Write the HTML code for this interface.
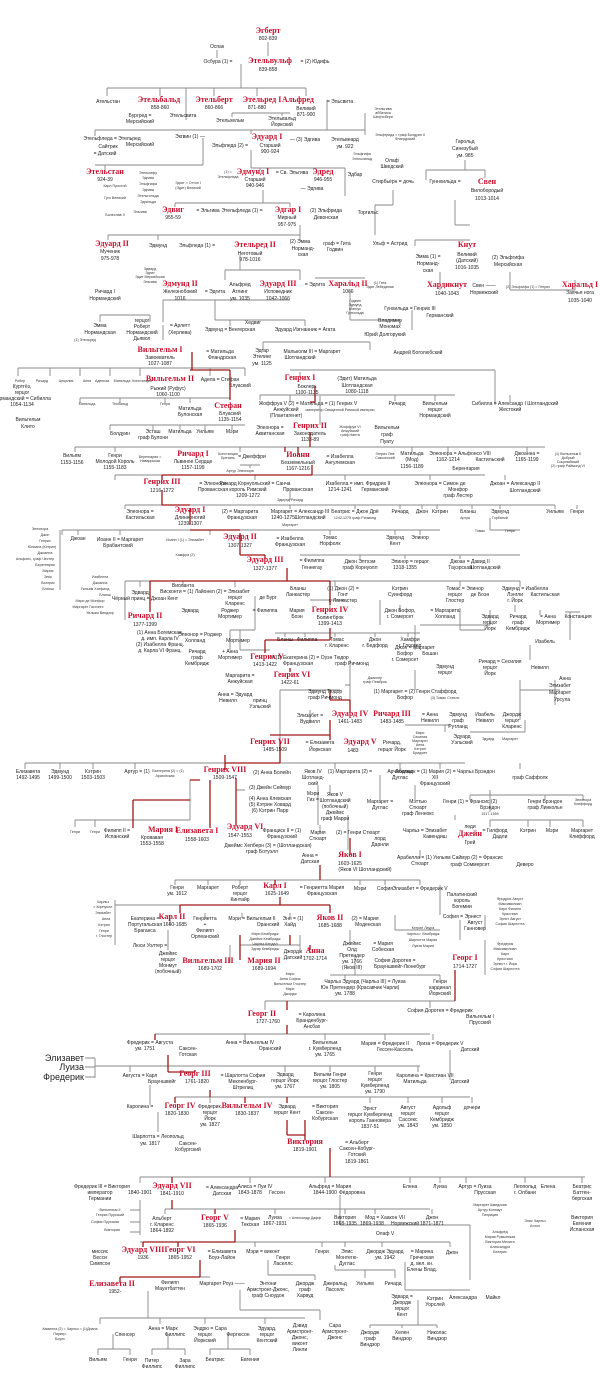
<!DOCTYPE html>
<html><head><meta charset="utf-8"><style>
html,body{margin:0;padding:0;background:#fff}
svg{display:block}
.t{font:5px "Liberation Sans",sans-serif;fill:#222;text-anchor:middle}
.s{font:3.6px "Liberation Sans",sans-serif;fill:#333;text-anchor:middle}
.r{font:bold 8px "Liberation Serif",serif;fill:#c8102e;text-anchor:middle}
.b{font:9px "Liberation Sans",sans-serif;fill:#222;text-anchor:end}
.g{fill:none;stroke:#888;stroke-width:0.9}
.d{fill:none;stroke:#a01818;stroke-width:1.3}
</style></head><body>
<svg width="600" height="1385" viewBox="0 0 600 1385" xmlns="http://www.w3.org/2000/svg">
<!-- gray lines -->
<path class="g" d="M268 42V56 M217 50V58 M241 64V88 M107 88H306 M107 88V96 M160 88V96 M186 88V120 M214 88V96 M257 88V96 M306 88V96
M232 113H290 M232 113V117 M282 113V116 M327 100V130 M95 130H365 M365 113V135 M95 130V136 M251 130V134
M203 138V165 M95 165H203 M105 165V170 M251 150V168 M251 168H345 M260 168V170 M345 168V196
M210 190H210 M175 203H290 M175 203V207 M290 203V207 M263 190V203
M426 170H485 M426 170V180 M485 170V178 M465 160V170 M393 190V205 M375 205H393 M375 205V235
M455 200V225 M455 225H470 M415 240H470 M415 240V246
M108 235H300 M108 235V240 M158 235V240 M300 225V240
M225 270H300 M225 270V280 M300 270V280 M240 255V270
M315 278H365 M350 280V286 M350 290V320 M350 320H400 M400 320V325 M412 310V330
M440 272V290 M510 272V290 M510 290H575 M575 290V280
M218 300H290 M218 300H163 M163 300V322 M163 325V340 M100 315H150 M100 315V322 M150 315V322
M215 300V320 M215 320H305 M230 320V326 M305 320V326 M263 342H370 M263 342V350 M370 342V350
M18 368H245 M18 368V376 M50 368V376 M80 368V376 M110 368V376 M140 368V376 M210 368V376 M245 368V376
M290 370H495 M495 370V405 M300 372V378
M80 398H230 M80 398V403 M120 398V403 M165 398V403 M190 398V403
M260 395H455 M260 395V400 M290 395V402 M395 395V401 M435 395V401 M510 395V402 M320 396V425
M110 425H245 M110 425V430 M153 425V430 M180 425V430 M205 425V430 M232 425V430
M75 447H545 M75 447V452 M115 447V452 M240 447V452 M412 447V452 M448 447V452 M527 447V452
M240 465H260 M250 465V468
M115 475H485 M115 475V480 M255 475V480 M345 475V480 M430 475V480 M505 475V480 M290 490V500
M125 505H555 M125 505V509 M290 505V509 M355 505V509 M400 505V509 M422 505V509 M437 505V509 M472 505V509 M500 505V509 M555 505V509 M577 505V509
M62 530H440 M62 530V535 M78 530V535 M120 530V535 M210 530V535 M330 530V535 M395 530V535 M420 530V535 M60 530V590
M490 518V530 M490 530H520
M300 555H520 M360 555V559 M405 555V559 M460 555V559
M125 581H520 M140 581V587 M183 581V587 M235 581V587 M335 581V587 M460 581V587 M520 581V587 M125 581V620
M150 605V612 M255 596V630 M230 630H255
M310 600H345 M330 605V612 M380 600V625 M400 605V612 M415 625V650 M420 625H490 M490 610V625
M460 608V630 M460 630H485 M515 605V612 M540 610V615 M565 612H580 M570 612V640 M530 645V660 M520 680V720
M240 630V650 M230 630V650 M240 650H270
M275 633H420 M285 633V637 M305 633V637 M335 633V637 M375 633V637 M408 633V637
M350 660V700 M345 685H350 M280 690V740 M280 690H340 M415 670V690 M555 680V705 M520 690H560
M310 710V720 M405 725H450 M445 725V732 M470 732H525 M525 720V732
M25 763H465 M25 763V769 M60 763V769 M93 763V769 M135 763V769 M335 763V769 M400 763V769 M440 763V769 M520 763V769
M190 780V820 M133 820H190 M75 820H160 M75 820V827 M95 820V827 M210 780V825 M236 778V825 M236 790H245
M318 785V825 M330 785V795 M380 775V800 M415 785V800 M470 795H583 M470 795V800 M545 795V800 M583 795V800 M490 790V812
M348 815V850 M320 825V832 M455 815V820 M490 820H583 M490 820V827 M528 820V827 M550 820V827 M583 820V827
M420 850V858 M175 880H420 M175 880V885 M208 880V885 M240 880V885 M360 880V885 M385 880V885 M420 880V885 M440 885V915
M115 905H258 M115 900V945 M170 915V925 M205 913V918 M242 913V918 M290 913V918 M168 930V950
M230 945V963 M240 945H300 M300 935V950 M350 930V945 M355 955V975 M330 975H440 M345 975V980 M440 975V980
M395 915V930 M395 930H440 M460 920V940 M485 915V930 M485 940V975
M265 1001H455 M265 1001V1010 M430 1001V1008
M155 1034H430 M245 1034V1040 M325 1034V1040 M385 1034V1040 M433 1034V1040 M450 1050V1080
M95 1058V1078 M85 1058H95 M85 1067H95 M85 1077H95 M95 1066H420 M130 1066V1072 M285 1066V1072 M330 1066V1072 M375 1066V1072 M418 1066V1072 M150 1085V1105
M175 1097H470 M210 1097V1103 M287 1097V1103 M370 1097V1103 M408 1097V1103 M442 1097V1103 M472 1097V1103 M158 1112V1132
M140 1177H585 M140 1177V1183 M250 1177V1183 M325 1177V1183 M410 1177V1183 M440 1177V1183 M466 1177V1183 M525 1177V1183 M582 1177V1183 M140 1200V1235 M130 1210H140 M130 1222H140 M130 1232H140
M165 1209H430 M165 1209V1214 M275 1209V1214 M345 1209V1214 M375 1209V1214 M432 1209V1214 M340 1195V1225 M340 1225H470 M470 1225V1280
M140 1242H450 M255 1242V1247 M322 1242V1247 M345 1242V1247 M382 1242V1247 M450 1242V1247 M268 1260V1275 M268 1275H315 M315 1275V1280 M335 1265V1270 M335 1270H395 M365 1270V1278 M395 1270V1278 M405 1262V1290 M405 1290H470
M200 1277H210 M148 1291V1318 M100 1318H305 M100 1318V1324 M160 1318V1324 M205 1318V1324 M265 1318V1324 M240 1290V1310 M240 1310H320 M320 1310V1320 M418 1300V1325 M370 1325H437 M370 1325V1328 M402 1325V1328 M437 1325V1328
M113 1334V1349 M98 1349H130 M98 1349V1355 M130 1349V1355 M168 1334V1349 M152 1349H185 M152 1349V1355 M185 1349V1355 M228 1334V1349 M210 1349H250 M210 1349V1355 M250 1349V1355"/>
<!-- red succession lines -->
<path class="d" d="M192 352V370 M190 370H230 M230 370V400 M315 386V402 M315 402H310 M310 432V447 M285 447V452 M298 447V455 M312 465V475 M162 475H312 M162 475V480 M162 490V505 M162 505H190 M190 508V525 M190 530H240 M240 533V555 M265 555V559 M240 555H265 M287 568V581 M150 581H330 M150 581V612 M330 581V605
M330 628V640 M265 640H330 M265 640V653 M290 668V672 M330 690V700 M330 700H350 M350 700V712 M270 735H330 M330 720V740 M280 740V763 M225 755V770 M225 763H280 M190 780H200 M210 780V828 M236 778V825 M133 800V828 M133 800H190
M350 838V855 M320 865V880 M275 880V885 M280 897V905 M180 905H330 M180 905V913 M330 905V913 M240 935V960 M290 935V945 M310 945V950 M455 970V1001 M287 1001V1010 M287 1025V1034 M155 1034V1040 M168 1055V1072 M168 1072H195 M195 1072V1070 M210 1090V1097 M175 1097V1103 M245 1097V1103 M287 1097V1103 M305 1120V1140 M287 1120V1135 M287 1135H305 M330 1148V1177 M172 1177V1183 M172 1200V1209 M215 1209V1214 M235 1230V1242 M143 1242H235 M143 1242V1247 M178 1242V1247 M200 1260V1277 M120 1277H200 M120 1277V1282"/>

<!-- REGION 1 -->
<text class="r" x="268" y="33">Эгберт</text><text class="t" x="268" y="40">802-839</text>
<text class="t" x="217" y="48">Оспак</text>
<text class="t" x="218" y="63">Осбура (1) =</text>
<text class="r" x="270" y="63">Этельвульф</text><text class="t" x="268" y="71">839-858</text><text class="t" x="315" y="63">= (2) Юдифь</text>
<text class="t" x="108" y="103">Ательстан</text>
<text class="r" x="159" y="102">Этельбальд</text><text class="t" x="160" y="109">858-860</text>
<text class="r" x="214" y="102">Этельберт</text><text class="t" x="214" y="109">860-866</text>
<text class="r" x="262" y="102">Этельред I</text><text class="t" x="257" y="109">871-880</text>
<text class="r" x="298" y="102">Альфред</text><text class="t" x="306" y="110">Великий</text><text class="t" x="306" y="116">871-900</text>
<text class="t" x="340" y="103">= Эльсвита</text>
<text class="t" x="140" y="117">Бургред =</text><text class="t" x="140" y="123">Мерсийский</text><text class="t" x="183" y="117">Этельсвита</text>
<text class="t" x="230" y="122">Этельхельм</text><text class="t" x="282" y="120">Этельвальд</text><text class="t" x="282" y="126">Йоркский</text>
<text class="s" x="383" y="110">Этельгива</text><text class="s" x="383" y="114">аббатиса</text><text class="s" x="383" y="118">Шефтсбери</text>
<text class="s" x="400" y="136">Эльфтрида = граф Болдуин II</text><text class="s" x="405" y="140">Фландрский</text>
<text class="t" x="112" y="140">Этельфледа = Этельред</text><text class="t" x="140" y="146">Мерсийский</text>
<text class="t" x="108" y="148">Сайтрик</text><text class="t" x="105" y="155">= Датский</text>
<text class="t" x="190" y="138">Экгвин (1) —</text>
<text class="r" x="267" y="139">Эдуард I</text><text class="t" x="305" y="141">— (3) Эдгива</text>
<text class="t" x="230" y="147">Эльфледа (2) =</text><text class="t" x="270" y="147">Старший</text><text class="t" x="270" y="153">900-924</text>
<text class="t" x="345" y="141">Этельвеард</text><text class="t" x="345" y="148">ум. 922</text>
<text class="s" x="362" y="155">Эльфгифа</text><text class="s" x="362" y="160">Этельхильд</text>
<text class="t" x="465" y="143">Гарольд</text><text class="t" x="465" y="150">Синезубый</text><text class="t" x="465" y="157">ум. 985</text>
<text class="t" x="392" y="162">Олаф</text><text class="t" x="392" y="168">Шведский</text>
<text class="r" x="105" y="174">Этельстан</text><text class="t" x="105" y="181">924-39</text>
<text class="s" x="148" y="174">Этельгифу</text><text class="s" x="148" y="179">Эдгива</text><text class="s" x="148" y="185">Эльфгифа</text><text class="s" x="148" y="191">Эдгива</text><text class="s" x="148" y="197">Этельгильда</text><text class="s" x="148" y="203">Эдгильда</text><text class="s" x="140" y="213">Эльгива</text>
<text class="s" x="115" y="187">Карл Простой</text><text class="s" x="115" y="199">Гуго Великий</text><text class="s" x="115" y="216">Болеслав II</text>
<text class="s" x="188" y="184">Эдгит = Оттон I</text><text class="s" x="188" y="189">(Эдит) Великий</text>
<text class="s" x="228" y="173">(1) =</text><text class="s" x="228" y="178">Этельфледа</text>
<text class="r" x="253" y="174">Эдмунд I</text><text class="t" x="292" y="174">= Св. Эльгива</text>
<text class="t" x="255" y="181">Старший</text><text class="t" x="255" y="187">940-946</text>
<text class="r" x="323" y="174">Эдред</text><text class="t" x="323" y="181">946-955</text><text class="t" x="355" y="176">Эдбар</text>
<text class="t" x="312" y="190">— Эдгива</text>
<text class="t" x="393" y="183">Стирбьёрн = дочь</text>
<text class="t" x="445" y="183">Гуннхильда =</text>
<text class="r" x="487" y="184">Свен</text><text class="t" x="487" y="192">Вилобородый</text><text class="t" x="487" y="200">1013-1014</text>
<text class="r" x="173" y="212">Эдвиг</text><text class="t" x="173" y="219">955-59</text><text class="t" x="208" y="212">= Эльгива</text>
<text class="t" x="242" y="212">Этельфледа (1) =</text>
<text class="r" x="288" y="212">Эдгар I</text><text class="t" x="287" y="219">Мирный</text><text class="t" x="287" y="226">957-975</text>
<text class="t" x="326" y="212">(2) Эльфрида</text><text class="t" x="326" y="219">Девонская</text>
<text class="t" x="368" y="214">Торгильс</text>
<text class="r" x="112" y="246">Эдуард II</text><text class="t" x="110" y="253">Мученик</text><text class="t" x="110" y="260">975-978</text>
<text class="t" x="158" y="247">Эдмунд</text><text class="t" x="197" y="247">Эльфледа (1) =</text>
<text class="r" x="255" y="247">Этельред II</text><text class="t" x="250" y="255">Неготовый</text><text class="t" x="250" y="261">978-1016</text>
<text class="t" x="300" y="243">(2) Эмма</text><text class="t" x="303" y="250">Норманд-</text><text class="t" x="303" y="256">ская</text>
<text class="t" x="337" y="245">граф = Гита</text><text class="t" x="335" y="251">Годвин</text>
<text class="t" x="390" y="245">Ульф = Астрид</text>
<text class="r" x="467" y="247">Кнут</text><text class="t" x="467" y="256">Великий</text><text class="t" x="467" y="262">(Датский)</text><text class="t" x="467" y="269">1016-1035</text>
<text class="t" x="428" y="258">Эмма (1) =</text><text class="t" x="428" y="265">Норманд-</text><text class="t" x="428" y="272">ская</text>
<text class="t" x="508" y="259">(2) Эльфгифа</text><text class="t" x="508" y="266">Мерсийская</text>
<text class="s" x="150" y="270">Эдвард</text><text class="s" x="150" y="274">Эдгит</text><text class="s" x="150" y="278">Эдит Мерсийская</text><text class="s" x="150" y="283">Эльгива</text>
<text class="r" x="180" y="286">Эдмунд II</text><text class="t" x="180" y="293">Железнобокий</text><text class="t" x="180" y="300">1016</text><text class="t" x="215" y="293">= Эдгита</text>
<text class="t" x="240" y="286">Альфред</text><text class="t" x="240" y="293">Атлинг</text><text class="t" x="240" y="300">ум. 1035</text>
<text class="r" x="278" y="286">Эдуард III</text><text class="t" x="278" y="293">Исповедник</text><text class="t" x="278" y="300">1042-1066</text>
<text class="t" x="315" y="286">= Эдгита</text>
<text class="r" x="348" y="286">Харальд II</text><text class="t" x="348" y="293">1066</text>
<text class="s" x="380" y="284">(1) Гита</text><text class="s" x="380" y="288">Эдит Лебединая</text>
<text class="r" x="447" y="287">Хардикнут</text><text class="t" x="447" y="295">1040-1043</text>
<text class="t" x="484" y="287">Свен ——</text><text class="t" x="484" y="294">Норвежский</text>
<text class="s" x="528" y="288">(2) Эльфгифа (1) = Генрих</text>
<text class="r" x="580" y="287">Харальд I</text><text class="t" x="580" y="294">Заячья нога</text><text class="t" x="580" y="302">1035-1040</text>
<text class="t" x="105" y="293">Ричард I</text><text class="t" x="105" y="300">Нормандский</text>
<text class="s" x="355" y="302">Годвин</text><text class="s" x="355" y="306">Эдмунд</text><text class="s" x="355" y="310">Магнус</text><text class="s" x="355" y="314">Гунхильда</text>
<text class="t" x="410" y="310">Гунхильда = Генрих III</text><text class="t" x="440" y="317">Германский</text>
<text class="t" x="390" y="322">Владимир</text><text class="t" x="390" y="328">Мономах</text><text class="t" x="385" y="336">Юрий Долгорукий</text>
<text class="t" x="100" y="327">Эмма</text><text class="t" x="100" y="334">Нормандская</text>
<text class="s" x="85" y="341">(1) Этельред</text>
<text class="t" x="142" y="322">герцог</text><text class="t" x="142" y="328">Роберт</text><text class="t" x="142" y="334">Нормандский</text><text class="t" x="142" y="340">Дьявол</text>
<text class="t" x="180" y="327">= Арлетт</text><text class="t" x="180" y="334">(Херлева)</text>
<text class="t" x="253" y="324">Хедвиг</text><text class="t" x="230" y="331">Эдмунд = Венгерская</text>
<text class="t" x="305" y="331">Эдуард Изгнанник = Агата</text>

<!-- REGION 2 -->
<text class="r" x="160" y="352">Вильгельм I</text><text class="t" x="160" y="359">Завоеватель</text><text class="t" x="160" y="365">1027-1087</text>
<text class="t" x="220" y="353">= Матильда</text><text class="t" x="222" y="359">Фландрская</text>
<text class="t" x="262" y="352">Эдгар</text><text class="t" x="262" y="358">Этелинг</text><text class="t" x="262" y="365">ум. 1125</text>
<text class="t" x="312" y="353">Мальколм III = Маргарет</text><text class="t" x="300" y="359">Шотландский</text>
<text class="t" x="418" y="354">Андрей Боголюбский</text>
<text class="s" x="20" y="382">Робер</text><text class="s" x="42" y="382">Ричард</text><text class="s" x="66" y="382">Цецилия</text><text class="s" x="87" y="382">Анна</text><text class="s" x="102" y="382">Аделиза</text><text class="s" x="122" y="382">Матильда</text><text class="s" x="142" y="382">Констанция</text>
<text class="t" x="22" y="388">Куртгёз,</text><text class="t" x="22" y="394">герцог</text><text class="t" x="22" y="400">Нормандский = Сибилла</text><text class="t" x="22" y="406">1054-1134</text>
<text class="t" x="28" y="421">Вильгельм</text><text class="t" x="28" y="428">Клито</text>
<text class="r" x="170" y="381">Вильгельм II</text><text class="t" x="168" y="390">Рыжий (Руфус)</text><text class="t" x="168" y="396">1060-1100</text>
<text class="t" x="220" y="381">Адела = Стефан</text><text class="t" x="240" y="387">Блуаский</text>
<text class="r" x="300" y="380">Генрих I</text><text class="t" x="307" y="388">Боклерк</text><text class="t" x="307" y="394">1100-1135</text>
<text class="t" x="357" y="380">(Эдит) Матильда</text><text class="t" x="357" y="387">Шотландская</text><text class="t" x="357" y="393">1080-1118</text>
<text class="s" x="87" y="405">Матильда</text><text class="s" x="120" y="405">Теобальд</text><text class="s" x="165" y="405">Генри</text>
<text class="t" x="190" y="410">Матильда</text><text class="t" x="190" y="416">Булонская</text>
<text class="r" x="228" y="408">Стефан</text><text class="t" x="230" y="415">Блуаский</text><text class="t" x="230" y="421">1135-1154</text>
<text class="t" x="308" y="405">Жоффруа V (2) = Матильда = (1) Генрих V</text>
<text class="t" x="286" y="411">Анжуйский</text><text class="t" x="286" y="417">(Плантагенет)</text><text class="s" x="340" y="411">император Священной Римской империи</text>
<text class="t" x="397" y="405">Ричард</text>
<text class="t" x="435" y="405">Вильгельм</text><text class="t" x="435" y="411">герцог</text><text class="t" x="435" y="417">Нормандский</text>
<text class="t" x="515" y="405">Сибилла = Александр I Шотландский</text><text class="t" x="510" y="411">Жестокий</text>
<text class="t" x="120" y="435">Болдуин</text><text class="t" x="153" y="433">Эсташ</text><text class="t" x="153" y="439">граф Булони</text>
<text class="t" x="180" y="433">Матильда</text><text class="t" x="205" y="433">Уильям</text><text class="t" x="232" y="433">Мэри</text>
<text class="t" x="270" y="429">Элеонора =</text><text class="t" x="270" y="435">Аквитанская</text>
<text class="r" x="310" y="428">Генрих II</text><text class="t" x="310" y="435">Законодатель</text><text class="t" x="310" y="441">1133-89</text>
<text class="s" x="350" y="428">Жоффруа VI</text><text class="s" x="350" y="432">Анжуйский</text><text class="s" x="350" y="436">граф Нанта</text>
<text class="t" x="387" y="429">Вильгельм</text><text class="t" x="387" y="436">граф</text><text class="t" x="387" y="443">Пуату</text>
<text class="t" x="72" y="457">Вильям</text><text class="t" x="72" y="464">1153-1156</text>
<text class="t" x="115" y="457">Генри</text><text class="t" x="115" y="463">Молодой Король</text><text class="t" x="115" y="469">1155-1183</text>
<text class="s" x="150" y="458">Беренгария =</text><text class="s" x="150" y="462">Наваррская</text>
<text class="r" x="193" y="456">Ричард I</text><text class="t" x="193" y="463">Львиное Сердце</text><text class="t" x="193" y="469">1157-1199</text>
<text class="s" x="228" y="455">Констанция</text><text class="s" x="228" y="459">Бретань</text><text class="t" x="252" y="458">= Джеффри</text>
<text class="s" x="240" y="472">Артур  Элеонора</text>
<text class="r" x="298" y="457">Иоанн</text><text class="t" x="298" y="464">Безземельный</text><text class="t" x="298" y="470">1167-1216</text>
<text class="t" x="340" y="458">= Изабелла</text><text class="t" x="340" y="464">Ангулемская</text>
<text class="s" x="385" y="455">Генрих Лев</text><text class="s" x="385" y="459">Саксонский</text>
<text class="t" x="412" y="455">Матильда</text><text class="t" x="412" y="461">(Мод)</text><text class="t" x="412" y="468">1156-1189</text>
<text class="t" x="460" y="455">Элеонора = Альфонсо VIII</text><text class="t" x="448" y="461">1162-1214</text><text class="t" x="490" y="461">Кастильский</text><text class="t" x="466" y="470">Беренгария</text>
<text class="t" x="527" y="455">Джоанна =</text><text class="t" x="527" y="461">1165-1199</text>
<text class="s" x="568" y="455">(1) Вильгельм II</text><text class="s" x="568" y="459">Добрый</text><text class="s" x="568" y="463">Сицилийский</text><text class="s" x="568" y="467">(2) граф Раймонд VI</text>
<text class="r" x="162" y="484">Генрих III</text><text class="t" x="162" y="492">1216-1272</text>
<text class="t" x="213" y="485">= Элеонора</text><text class="t" x="213" y="491">Провансская</text>
<text class="t" x="255" y="485">Ричард Корнуольский = Санча</text><text class="t" x="248" y="491">король Римский</text><text class="t" x="248" y="497">1209-1272</text><text class="t" x="298" y="491">Провансская</text>
<text class="s" x="290" y="501">Эдмунд  Ричард</text>
<text class="t" x="358" y="485">Изабелла = имп. Фридрих II</text><text class="t" x="340" y="491">1214-1241</text><text class="t" x="375" y="491">Германский</text>
<text class="t" x="440" y="485">Элеонора = Симон де</text><text class="t" x="458" y="491">Монфор</text><text class="t" x="458" y="497">граф Лестер</text>
<text class="t" x="515" y="485">Джоан = Александр II</text><text class="t" x="525" y="492">Шотландский</text>
<text class="t" x="140" y="513">Элеонора =</text><text class="t" x="140" y="519">Кастильская</text>
<text class="r" x="190" y="512">Эдуард I</text><text class="t" x="190" y="519">Длинноногий</text><text class="t" x="190" y="525">1239-1307</text>
<text class="t" x="240" y="513">(2) = Маргарита</text><text class="t" x="242" y="519">Французская</text>
<text class="t" x="300" y="513">Маргарет = Александр III</text><text class="t" x="283" y="519">1240-1275</text><text class="t" x="310" y="519">Шотландский</text><text class="s" x="290" y="526">Маргарет</text>
<text class="t" x="355" y="513">Беатрис = Джон Дрё</text><text class="s" x="355" y="519">1242-1275  граф Ричмонд</text>
<text class="t" x="400" y="513">Ричард</text><text class="t" x="422" y="513">Джон</text><text class="t" x="440" y="513">Кэтрин</text><text class="t" x="468" y="513">Бланш</text><text class="t" x="500" y="513">Эдмунд</text>
<text class="s" x="500" y="519">Горбатый</text><text class="s" x="465" y="519">Артуа</text>
<text class="t" x="555" y="513">Уильям</text><text class="t" x="577" y="513">Генри</text>
<text class="s" x="40" y="530">Элеонора</text><text class="s" x="45" y="536">Джон</text><text class="s" x="45" y="542">Генрих</text><text class="s" x="42" y="548">Юлиана (Кэтрин)</text><text class="s" x="45" y="554">Джоанна</text><text class="s" x="35" y="560">Альфонс, граф Честер</text><text class="s" x="45" y="566">Беренгария</text><text class="s" x="48" y="572">Мария</text><text class="s" x="48" y="578">Элис</text><text class="s" x="48" y="584">Беатрис</text><text class="s" x="48" y="590">Бланш</text>
<text class="s" x="480" y="532">Томас</text><text class="s" x="510" y="532">Генри</text>
<text class="t" x="78" y="540">Джоан</text>
<text class="t" x="120" y="541">Иоанн II = Маргарет</text><text class="t" x="118" y="547">Брабантский</text>
<text class="s" x="185" y="541">Иоанн I (1) = Элизабет</text><text class="s" x="185" y="556">Хамфри (2)</text>
<text class="r" x="240" y="539">Эдуард II</text><text class="t" x="240" y="547">1307-1327</text>
<text class="t" x="290" y="540">= Изабелла</text><text class="t" x="290" y="546">Французская</text>
<text class="t" x="330" y="539">Томас</text><text class="t" x="330" y="545">Норфолк</text>
<text class="t" x="395" y="539">Эдмунд</text><text class="t" x="395" y="545">Кент</text><text class="t" x="420" y="539">Элинор</text>
<text class="r" x="265" y="562">Эдуард III</text><text class="t" x="265" y="570">1327-1377</text>
<text class="t" x="312" y="562">= Филиппа</text><text class="t" x="312" y="569">Геннегау</text>
<text class="t" x="360" y="563">Джон Элтхэм</text><text class="t" x="360" y="569">граф Корнуолл</text>
<text class="t" x="410" y="563">Элинор = герцог</text><text class="t" x="405" y="569">1318-1355</text>
<text class="t" x="470" y="563">Джоан = Давид II</text><text class="t" x="460" y="569">Тауэрская</text><text class="t" x="485" y="569">Шотландский</text>
<text class="s" x="100" y="578">Изабелла</text><text class="s" x="100" y="584">Джоанна</text><text class="s" x="95" y="590">Уильям Хатфилд</text><text class="s" x="105" y="596">Бланш</text><text class="s" x="90" y="602">Мэри де Монфор</text><text class="s" x="88" y="608">Маргарет Гастингс</text><text class="s" x="100" y="614">Уильям Виндзор</text>
<text class="t" x="140" y="594">Эдвард</text><text class="t" x="145" y="600">Чёрный принц = Джоан Кент</text>
<text class="t" x="183" y="587">Виоланта</text><text class="t" x="205" y="593">Висконти = (1) Лайонел (2) = Элизабет</text>
<text class="t" x="235" y="599">герцог</text><text class="t" x="235" y="605">Кларенс</text><text class="t" x="268" y="599">де Бург</text>
<text class="t" x="298" y="590">Бланш</text><text class="t" x="298" y="596">Ланкастер</text>
<text class="t" x="343" y="590">(1) Джон (2) =</text><text class="t" x="343" y="596">Гонт</text><text class="t" x="343" y="602">г. Ланкастер</text>
<text class="t" x="400" y="590">Кэтрин</text><text class="t" x="400" y="596">Суинфорд</text>
<text class="t" x="465" y="590">Томас = Элинор</text><text class="t" x="455" y="596">герцог</text><text class="t" x="455" y="602">Глостер</text><text class="t" x="480" y="596">де Боэн</text>
<text class="t" x="525" y="590">Эдмунд = Изабелла</text><text class="t" x="515" y="596">Лэнгли</text><text class="t" x="515" y="602">г. Йорк</text><text class="t" x="545" y="596">Кастильская</text>
<text class="t" x="190" y="612">Эдвард</text>
<text class="r" x="145" y="618">Ричард II</text><text class="t" x="145" y="626">1377-1399</text>
<text class="t" x="160" y="634">(1) Анна Богемская,</text><text class="t" x="160" y="640">д. имп. Карла IV</text><text class="t" x="160" y="646">(2) Изабелла Франц.</text><text class="t" x="160" y="652">д. Карла VI Франц.</text>
<text class="t" x="230" y="612">Роджер</text><text class="t" x="230" y="618">Мортимер</text><text class="t" x="265" y="612">= Филиппа</text>
<text class="t" x="297" y="612">Мария</text><text class="t" x="297" y="618">Боэн</text>
<text class="r" x="330" y="612">Генрих IV</text><text class="t" x="330" y="619">Болингброк</text><text class="t" x="330" y="625">1399-1413</text>
<text class="t" x="400" y="612">Джон Бофор,</text><text class="t" x="400" y="618">г. Сомерсет</text>
<text class="t" x="445" y="612">= Маргарита</text><text class="t" x="445" y="618">Холланд</text>
<text class="t" x="490" y="618">Эдвард</text><text class="t" x="490" y="624">герцог</text><text class="t" x="490" y="630">Йорк</text>
<text class="t" x="518" y="618">Ричард</text><text class="t" x="518" y="624">граф</text><text class="t" x="518" y="630">Кембридж</text>
<text class="t" x="548" y="618">= Анна</text><text class="t" x="548" y="624">Мортимер</text>
<text class="t" x="578" y="618">Констанция</text>
<text class="t" x="200" y="636">Элеонор = Роджер</text><text class="t" x="195" y="642">Холланд</text><text class="t" x="238" y="642">Мортимер</text>
<text class="t" x="285" y="641">Бланш</text><text class="t" x="307" y="641">Филиппа</text>
<text class="t" x="337" y="641">Томас</text><text class="t" x="337" y="647">г. Кларенс</text>
<text class="t" x="375" y="641">Джон</text><text class="t" x="375" y="647">г. Бедфорд</text>
<text class="t" x="410" y="641">Хамфри</text><text class="t" x="410" y="647">г. Глостер</text>
<text class="t" x="545" y="643">Изабель</text>
<text class="t" x="197" y="653">Ричард</text><text class="t" x="197" y="659">граф</text><text class="t" x="197" y="665">Кембридж</text>
<text class="t" x="230" y="653">+ Анна</text><text class="t" x="230" y="659">Мортимер</text>
<text class="r" x="267" y="659">Генрих V</text><text class="t" x="265" y="666">1413-1422</text>
<text class="t" x="310" y="659">= (1) Екатерина (2) = Оуэн Тюдор</text><text class="t" x="298" y="665">Французская</text><text class="t" x="352" y="665">граф Ричмонд</text>
<text class="t" x="415" y="649">Джон = Маргарет</text><text class="t" x="405" y="655">Бофор</text><text class="t" x="405" y="661">г. Сомерсет</text><text class="t" x="430" y="655">Бошан</text>
<text class="t" x="445" y="668">Эдмунд</text><text class="t" x="445" y="674">герцог</text>
<text class="t" x="500" y="663">Ричард = Сесилия</text><text class="t" x="490" y="669">герцог</text><text class="t" x="490" y="675">Йорк</text><text class="t" x="540" y="669">Невилл</text>
<text class="t" x="240" y="677">Маргарита =</text><text class="t" x="240" y="683">Анжуйская</text>
<text class="r" x="292" y="677">Генрих VI</text><text class="t" x="290" y="684">1422-61</text>
<text class="s" x="375" y="679">Джаспер</text><text class="s" x="375" y="683">граф Пемброк</text>
<text class="t" x="565" y="680">Анна</text><text class="t" x="560" y="687">Элизабет</text><text class="t" x="560" y="694">Маргарет</text><text class="t" x="562" y="701">Урсула</text>
<text class="t" x="235" y="696">Анна = Эдуард</text><text class="t" x="228" y="702">Невилл</text><text class="t" x="260" y="702">принц</text><text class="t" x="260" y="708">Уэльский</text>
<text class="t" x="325" y="693">Эдмунд Тюдор</text><text class="t" x="325" y="699">граф Ричмонд</text>
<text class="t" x="415" y="693">(1) Маргарет = (2) Генри Стаффорд</text><text class="t" x="405" y="699">Бофор</text><text class="s" x="445" y="699">(3) Томас Стэнли</text>

<!-- REGION 3 -->
<text class="t" x="310" y="717">Элизабет =</text><text class="t" x="310" y="723">Вудвилл</text>
<text class="r" x="350" y="716">Эдуард IV</text><text class="t" x="350" y="723">1461-1483</text>
<text class="r" x="392" y="716">Ричард III</text><text class="t" x="392" y="723">1483-1485</text>
<text class="t" x="430" y="716">= Анна</text><text class="t" x="430" y="722">Невилл</text>
<text class="t" x="458" y="716">Эдмунд</text><text class="t" x="458" y="722">граф</text><text class="t" x="458" y="728">Рутланд</text>
<text class="t" x="485" y="716">Изабель</text><text class="t" x="485" y="722">Невилл</text>
<text class="t" x="512" y="716">Джордж</text><text class="t" x="512" y="722">герцог</text><text class="t" x="512" y="728">Кларенс</text>
<text class="t" x="462" y="738">Эдуард</text><text class="t" x="462" y="744">Уэльский</text>
<text class="s" x="488" y="740">Эдуард</text><text class="s" x="510" y="740">Маргарет</text>
<text class="s" x="420" y="734">Мэри</text><text class="s" x="420" y="738">Сесилия</text><text class="s" x="420" y="742">Маргарет</text><text class="s" x="420" y="746">Анна</text><text class="s" x="420" y="750">Кэтрин</text><text class="s" x="420" y="754">Бриджет</text>
<text class="r" x="270" y="744">Генрих VII</text><text class="t" x="275" y="751">1485-1509</text>
<text class="t" x="320" y="744">= Елизавета</text><text class="t" x="320" y="751">Йоркская</text>
<text class="r" x="360" y="744">Эдуард V</text><text class="t" x="353" y="752">1483</text>
<text class="t" x="392" y="744">Ричард,</text><text class="t" x="392" y="751">герцог Йорк</text>
<text class="t" x="28" y="773">Елизавета</text><text class="t" x="28" y="779">1492-1495</text>
<text class="t" x="60" y="773">Эдмунд</text><text class="t" x="60" y="779">1499-1500</text>
<text class="t" x="93" y="773">Кэтрин</text><text class="t" x="93" y="779">1503-1503</text>
<text class="t" x="137" y="773">Артур = (1)</text><text class="s" x="168" y="772">Екатерина (2) = (1)</text><text class="s" x="165" y="777">Арагонская</text>
<text class="r" x="225" y="772">Генрих VIII</text><text class="t" x="225" y="779">1509-1547</text>
<text class="t" x="272" y="774">(2) Анна Болейн</text>
<text class="t" x="313" y="773">Яков IV</text><text class="t" x="313" y="779">Шотланд-</text><text class="t" x="313" y="785">ский</text>
<text class="t" x="350" y="773">(1) Маргарита (2) =</text>
<text class="t" x="400" y="773">Арчибальд</text><text class="t" x="400" y="779">Дуглас</text>
<text class="t" x="445" y="773">Людовик = (1) Мария (2) = Чарльз Брэндон</text><text class="t" x="435" y="779">XII</text><text class="t" x="435" y="785">Французский</text><text class="t" x="530" y="779">граф Саффолк</text>
<text class="t" x="270" y="789">(3) Джейн Сеймур</text>
<text class="t" x="270" y="800">(4) Анна Клевская</text><text class="t" x="270" y="806">(5) Кэтрин Ховард</text><text class="t" x="270" y="812">(6) Кэтрин Парр</text>
<text class="t" x="313" y="795">Мэри</text><text class="t" x="313" y="801">Гиз =</text><text class="t" x="335" y="796">Яков V</text><text class="t" x="335" y="802">Шотландский</text><text class="t" x="335" y="808">(побочный)</text>
<text class="t" x="335" y="814">Джеймс</text><text class="t" x="335" y="820">граф Марри</text>
<text class="t" x="380" y="803">Маргарет =</text><text class="t" x="380" y="809">Дуглас</text>
<text class="t" x="418" y="803">Мэттью</text><text class="t" x="418" y="809">Стюарт</text><text class="t" x="418" y="815">граф Леннокс</text>
<text class="t" x="470" y="803">Генри (1) = Франсис (2)</text><text class="t" x="490" y="809">Брэндон</text><text class="s" x="490" y="815">1517-1559</text>
<text class="t" x="545" y="803">Генри Брэндон</text><text class="t" x="545" y="809">граф Линкольн</text>
<text class="s" x="583" y="801">Элеонора</text><text class="s" x="583" y="805">Клиффорд</text>
<text class="s" x="75" y="833">Генри</text><text class="s" x="95" y="833">Генри</text>
<text class="t" x="117" y="832">Филипп II =</text><text class="t" x="117" y="838">Испанский</text>
<text class="r" x="163" y="832">Мария I</text><text class="t" x="152" y="839">Кровавая</text><text class="t" x="152" y="845">1553-1558</text>
<text class="r" x="197" y="833">Елизавета I</text><text class="t" x="197" y="841">1558-1603</text>
<text class="r" x="245" y="829">Эдуард VI</text><text class="t" x="240" y="837">1547-1553</text>
<text class="t" x="282" y="832">Франциск II = (1)</text><text class="t" x="282" y="838">Французский</text>
<text class="t" x="318" y="834">Мария</text><text class="t" x="318" y="840">Стюарт</text>
<text class="t" x="358" y="834">(2) = Генри Стюарт</text><text class="t" x="380" y="840">лорд</text><text class="t" x="380" y="846">Дарнли</text>
<text class="t" x="425" y="832">Чарльз = Элизабет</text><text class="t" x="435" y="838">Кавендиш</text>
<text class="t" x="470" y="828">леди</text><text class="r" x="470" y="836">Джейн</text><text class="t" x="470" y="844">Грей</text>
<text class="t" x="495" y="832">= Гилфорд</text><text class="t" x="500" y="838">Дадли</text>
<text class="t" x="528" y="832">Кэтрин</text><text class="t" x="552" y="832">Мэри</text>
<text class="t" x="582" y="832">Маргарет</text><text class="t" x="582" y="838">Клиффорд</text>
<text class="t" x="268" y="847">Джеймс Хепберн (3) = (Шотландская)</text><text class="t" x="262" y="853">граф Ботуэлл</text>
<text class="t" x="310" y="857">Анна =</text><text class="t" x="310" y="863">Датская</text>
<text class="r" x="350" y="857">Яков I</text><text class="t" x="350" y="865">1603-1625</text><text class="t" x="365" y="871">(Яков VI Шотландский)</text>
<text class="t" x="450" y="859">Арабелла = (1) Уильям Саймур (2) = Франсис</text><text class="t" x="420" y="865">Стюарт</text><text class="t" x="470" y="866">граф Соммерсет</text><text class="t" x="525" y="866">Деверо</text>
<text class="t" x="177" y="889">Генри</text><text class="t" x="177" y="895">ум. 1612</text>
<text class="t" x="208" y="889">Маргарет</text>
<text class="t" x="240" y="889">Роберт</text><text class="t" x="240" y="895">герцог</text><text class="t" x="240" y="901">Кинтайр</text>
<text class="r" x="275" y="888">Карл I</text><text class="t" x="277" y="895">1625-1649</text>
<text class="t" x="322" y="889">= Генриетта Мария</text><text class="t" x="322" y="895">Французская</text>
<text class="t" x="360" y="890">Мэри</text><text class="t" x="385" y="890">София</text>
<text class="t" x="420" y="890">Элизабет = Фредерик V</text><text class="t" x="462" y="896">Палатинский</text><text class="t" x="462" y="902">король</text><text class="t" x="462" y="908">Богемии</text>
<text class="s" x="103" y="903">Чарльз</text><text class="s" x="103" y="908">г. Корнуолл</text><text class="s" x="103" y="914">Элизабет</text><text class="s" x="106" y="920">Анна</text><text class="s" x="104" y="926">Кэтрин</text><text class="s" x="104" y="932">Генри</text><text class="s" x="104" y="937">г. Глостер</text>
<text class="t" x="145" y="920">Екатерина =</text><text class="t" x="145" y="926">Португальская</text><text class="t" x="145" y="932">Браганса</text>
<text class="r" x="172" y="919">Карл II</text><text class="t" x="175" y="926">1660-1685</text>
<text class="t" x="205" y="920">Генриетта</text><text class="t" x="205" y="926">+</text><text class="t" x="205" y="932">Филипп</text><text class="t" x="205" y="938">Орлеанский</text>
<text class="t" x="252" y="920">Мэри = Вильгельм II</text><text class="t" x="268" y="926">Оранский</text>
<text class="t" x="293" y="920">Энн = (1)</text><text class="t" x="290" y="926">Хайд</text>
<text class="r" x="330" y="920">Яков II</text><text class="t" x="330" y="927">1685-1688</text>
<text class="t" x="365" y="920">(2) = Мария</text><text class="t" x="368" y="926">Моденская</text>
<text class="s" x="423" y="929">Кэтрин Лаура</text><text class="s" x="423" y="935">Чарльз г. Кембридж</text><text class="s" x="423" y="941">Шарлотта Мария</text><text class="s" x="423" y="947">Луиза Мария</text>
<text class="t" x="462" y="918">София = Эрнест</text><text class="t" x="475" y="924">Август</text><text class="t" x="475" y="930">Ганновер</text>
<text class="s" x="510" y="900">Фридрих Август</text><text class="s" x="510" y="905">Максимилиан</text><text class="s" x="510" y="910">Карл Филипп</text><text class="s" x="510" y="915">Кристиан</text><text class="s" x="510" y="920">Эрнст Август</text><text class="s" x="510" y="925">София Шарлотта</text>
<text class="t" x="150" y="947">Люси Уолтер =</text>
<text class="t" x="168" y="955">Джеймс</text><text class="t" x="168" y="961">герцог</text><text class="t" x="168" y="967">Монмут</text><text class="t" x="168" y="973">(побочный)</text>
<text class="s" x="265" y="935">Мэри Кембридж</text><text class="s" x="265" y="940">Джеймс Кембридж</text><text class="s" x="265" y="945">Чарльз Кендал</text><text class="s" x="265" y="950">Эдгар Кембридж</text>
<text class="r" x="208" y="963">Вильгельм III</text><text class="t" x="210" y="970">1689-1702</text>
<text class="r" x="264" y="963">Мария II</text><text class="t" x="264" y="970">1689-1694</text>
<text class="t" x="293" y="953">Джордж</text><text class="t" x="293" y="959">Датский</text>
<text class="r" x="315" y="953">Анна</text><text class="t" x="315" y="960">1702-1714</text>
<text class="s" x="290" y="975">Мэри</text><text class="s" x="290" y="980">Анна София</text><text class="s" x="290" y="985">Вильгельм Глостер</text><text class="s" x="290" y="990">Мэри</text><text class="s" x="290" y="995">Джордж</text>
<text class="t" x="352" y="945">Джеймс</text><text class="t" x="352" y="951">Олд</text><text class="t" x="352" y="957">Претендер</text><text class="t" x="352" y="963">ум. 1766</text><text class="t" x="352" y="969">(Яков III)</text>
<text class="t" x="383" y="945">= Мария</text><text class="t" x="383" y="951">Собеская</text>
<text class="t" x="395" y="962">София Доротея =</text><text class="t" x="400" y="968">Брауншвейг-Люнебург</text>
<text class="r" x="465" y="960">Георг I</text><text class="t" x="465" y="968">1714-1727</text>
<text class="s" x="505" y="945">Фредерик</text><text class="s" x="505" y="950">Максимилиан</text><text class="s" x="505" y="955">Карл</text><text class="s" x="505" y="960">Кристиан</text><text class="s" x="505" y="965">Эрнест г. Йорк</text><text class="s" x="505" y="970">София Шарлотта</text>
<text class="t" x="365" y="983">Чарльз Эдуард (Чарльз III) = Луиза</text><text class="t" x="360" y="989">Юн Претендер (Красавчик Чарли)</text><text class="t" x="345" y="995">ум. 1788</text>
<text class="t" x="440" y="983">Генри</text><text class="t" x="440" y="989">кардинал</text><text class="t" x="440" y="995">Йоркский</text>

<!-- REGION 4 -->
<text class="r" x="262" y="1016">Георг II</text><text class="t" x="268" y="1023">1727-1760</text>
<text class="t" x="312" y="1016">= Каролина</text><text class="t" x="312" y="1022">Бранденбург-</text><text class="t" x="312" y="1028">Ансбах</text>
<text class="t" x="440" y="1012">София Доротея = Фредерик</text><text class="t" x="480" y="1018">Вильгельм I</text><text class="t" x="480" y="1024">Прусский</text>
<text class="t" x="150" y="1044">Фредерик = Августа</text><text class="t" x="145" y="1050">ум. 1751</text><text class="t" x="188" y="1050">Саксен-</text><text class="t" x="188" y="1056">Готская</text>
<text class="t" x="250" y="1044">Анна = Вильгельм IV</text><text class="t" x="270" y="1050">Оранский</text>
<text class="t" x="325" y="1044">Вильгельм</text><text class="t" x="325" y="1050">г. Кумберленд</text><text class="t" x="325" y="1056">ум. 1765</text>
<text class="t" x="385" y="1045">Мария = Фредерик II</text><text class="t" x="395" y="1051">Гессен-Кассель</text>
<text class="t" x="440" y="1045">Луиза = Фредерик V</text><text class="t" x="470" y="1051">Датский</text>
<text class="b" x="84" y="1061">Элизавет</text><text class="b" x="84" y="1070">Луиза</text><text class="b" x="84" y="1080">Фредерик</text>
<text class="t" x="140" y="1077">Августа = Карл</text><text class="t" x="162" y="1083">Брауншвейг</text>
<text class="r" x="195" y="1076">Георг III</text><text class="t" x="197" y="1083">1761-1820</text>
<text class="t" x="243" y="1077">= Шарлотта София</text><text class="t" x="243" y="1083">Мекленбург-</text><text class="t" x="243" y="1089">Штрелиц</text>
<text class="t" x="285" y="1076">Эдвард</text><text class="t" x="285" y="1082">герцог Йорк</text><text class="t" x="285" y="1088">ум. 1767</text>
<text class="t" x="330" y="1076">Вильям Генри</text><text class="t" x="330" y="1082">герцог Глостер</text><text class="t" x="330" y="1088">ум. 1805</text>
<text class="t" x="375" y="1075">Генри</text><text class="t" x="375" y="1081">герцог</text><text class="t" x="375" y="1087">Кумберленд</text><text class="t" x="375" y="1093">ум. 1790</text>
<text class="t" x="425" y="1077">Каролина = Кристиан VII</text><text class="t" x="415" y="1083">Матильда</text><text class="t" x="460" y="1083">Датский</text>
<text class="t" x="140" y="1108">Каролина =</text>
<text class="r" x="180" y="1108">Георг IV</text><text class="t" x="177" y="1115">1820-1830</text>
<text class="t" x="210" y="1108">Фредерик,</text><text class="t" x="210" y="1114">герцог</text><text class="t" x="210" y="1120">Йорк</text><text class="t" x="210" y="1126">ум. 1827</text>
<text class="r" x="247" y="1108">Вильгельм IV</text><text class="t" x="247" y="1115">1830-1837</text>
<text class="t" x="287" y="1108">Эдвард</text><text class="t" x="287" y="1114">герцог Кент</text>
<text class="t" x="325" y="1108">= Виктория</text><text class="t" x="325" y="1114">Саксен-</text><text class="t" x="325" y="1120">Кобургская</text>
<text class="t" x="370" y="1110">Эрнст</text><text class="t" x="370" y="1116">герцог Кумберленд</text><text class="t" x="370" y="1122">король Ганновера</text><text class="t" x="370" y="1128">1837-51</text>
<text class="t" x="408" y="1109">Август</text><text class="t" x="408" y="1115">герцог</text><text class="t" x="408" y="1121">Сассекс</text><text class="t" x="408" y="1127">ум. 1843</text>
<text class="t" x="442" y="1109">Адольф</text><text class="t" x="442" y="1115">герцог</text><text class="t" x="442" y="1121">Кембридж</text><text class="t" x="442" y="1127">ум. 1850</text>
<text class="t" x="472" y="1109">дочери</text>
<text class="t" x="158" y="1138">Шарлотта = Леопольд</text><text class="t" x="150" y="1145">ум. 1817</text><text class="t" x="188" y="1145">Саксен-</text><text class="t" x="188" y="1151">Кобургский</text>
<text class="r" x="305" y="1144">Виктория</text><text class="t" x="305" y="1151">1819-1901</text>
<text class="t" x="357" y="1144">= Альберт</text><text class="t" x="357" y="1150">Саксен-Кобург-</text><text class="t" x="357" y="1156">Готский</text><text class="t" x="357" y="1163">1819-1861</text>
<text class="t" x="102" y="1188">Фредерик III = Виктория</text><text class="t" x="100" y="1194">император</text><text class="t" x="100" y="1200">Германии</text><text class="t" x="140" y="1194">1840-1901</text>
<text class="s" x="110" y="1211">Вильгельм II</text><text class="s" x="110" y="1216">Генрих Прусский</text><text class="s" x="105" y="1223">София Прусская</text><text class="s" x="112" y="1231">Виктория</text>
<text class="r" x="172" y="1188">Эдуард VII</text><text class="t" x="172" y="1195">1841-1910</text>
<text class="t" x="222" y="1189">= Александра</text><text class="t" x="222" y="1195">Датская</text>
<text class="t" x="255" y="1188">Алиса = Луи IV</text><text class="t" x="250" y="1194">1843-1878</text><text class="t" x="277" y="1194">Гессен</text>
<text class="t" x="330" y="1188">Альфред = Мария</text><text class="t" x="325" y="1194">1844-1900</text><text class="t" x="352" y="1194">Фёдоровна</text>
<text class="t" x="410" y="1188">Елена</text><text class="t" x="440" y="1188">Луиза</text>
<text class="t" x="475" y="1188">Артур = Луиза</text><text class="t" x="485" y="1194">Прусская</text>
<text class="t" x="525" y="1188">Леопольд</text><text class="t" x="525" y="1194">г. Олбани</text>
<text class="t" x="548" y="1188">Елена</text>
<text class="t" x="582" y="1188">Беатрис</text><text class="t" x="582" y="1194">Баттен-</text><text class="t" x="582" y="1200">бергская</text>
<text class="s" x="490" y="1206">Маргарет Шведская</text><text class="s" x="490" y="1211">Артур Коннаут</text><text class="s" x="490" y="1216">Патриция</text>
<text class="s" x="535" y="1222">Элис  Чарльз</text><text class="s" x="535" y="1227">Атлон</text>
<text class="s" x="500" y="1233">Альфред</text><text class="s" x="500" y="1238">Мария Румынская</text><text class="s" x="500" y="1243">Виктория Мелита</text><text class="s" x="500" y="1248">Александра</text><text class="s" x="500" y="1253">Беатрис</text>
<text class="t" x="162" y="1220">Альберт</text><text class="t" x="162" y="1226">г. Кларенс</text><text class="t" x="162" y="1232">1864-1892</text>
<text class="r" x="215" y="1220">Георг V</text><text class="t" x="215" y="1227">1865-1936</text>
<text class="t" x="250" y="1220">= Мария</text><text class="t" x="250" y="1226">Текская</text>
<text class="t" x="275" y="1219">Луиза</text><text class="t" x="275" y="1225">1867-1931</text><text class="s" x="305" y="1219">= Александр Дафф</text>
<text class="t" x="345" y="1219">Виктория</text><text class="t" x="345" y="1225">1868-1935</text>
<text class="t" x="385" y="1219">Мод = Хаакон VII</text><text class="t" x="372" y="1225">1869-1938</text><text class="t" x="405" y="1225">Норвежский</text>
<text class="t" x="432" y="1219">Джон</text><text class="t" x="432" y="1225">1871-1871</text>
<text class="t" x="385" y="1235">Олаф V</text>
<text class="t" x="582" y="1219">Виктория</text><text class="t" x="582" y="1225">Евгения</text><text class="t" x="582" y="1231">Испанская</text>
<text class="t" x="100" y="1253">миссис</text><text class="t" x="100" y="1259">Бесси</text><text class="t" x="100" y="1265">Симпсон</text>
<text class="r" x="143" y="1252">Эдуард VIII</text><text class="t" x="143" y="1259">1936</text>
<text class="r" x="180" y="1252">Георг VI</text><text class="t" x="180" y="1259">1865-1952</text>
<text class="t" x="222" y="1253">= Елизавета</text><text class="t" x="222" y="1259">Боуз-Лайон</text>
<text class="t" x="263" y="1253">Мэри = виконт</text><text class="t" x="283" y="1259">Генри</text><text class="t" x="283" y="1265">Ласеллс</text>
<text class="t" x="322" y="1253">Генри</text>
<text class="t" x="347" y="1253">Элис</text><text class="t" x="347" y="1259">Монтегю-</text><text class="t" x="347" y="1265">Дуглас</text>
<text class="t" x="385" y="1253">Джордж Эдуард</text><text class="t" x="385" y="1259">ум. 1942</text>
<text class="t" x="422" y="1253">= Марина</text><text class="t" x="422" y="1259">Греческая</text><text class="t" x="422" y="1265">д. вел. кн.</text><text class="t" x="422" y="1271">Елены Влад.</text>
<text class="t" x="452" y="1254">Джон</text>
<text class="r" x="112" y="1286">Елизавета II</text><text class="t" x="115" y="1293">1952-</text>
<text class="t" x="170" y="1284">Филипп</text><text class="t" x="170" y="1290">Маунтбаттен</text>
<text class="t" x="222" y="1285">Маргарет Роуз ——</text>
<text class="t" x="268" y="1285">Энтони</text><text class="t" x="268" y="1291">Армстронг-Джонс,</text><text class="t" x="268" y="1297">граф Сноудон</text>
<text class="t" x="305" y="1285">Джордж</text><text class="t" x="305" y="1291">граф</text><text class="t" x="305" y="1297">Харвуд</text>
<text class="t" x="335" y="1285">Джеральд</text><text class="t" x="335" y="1291">Ласселс</text>
<text class="t" x="365" y="1285">Уильям</text><text class="t" x="393" y="1285">Ричард</text>
<text class="t" x="402" y="1298">Эдвард =</text><text class="t" x="402" y="1304">Джордж</text><text class="t" x="402" y="1310">герцог</text><text class="t" x="402" y="1316">Кент</text>
<text class="t" x="435" y="1300">Кэтрин</text><text class="t" x="435" y="1306">Уорслей</text>
<text class="t" x="463" y="1299">Александра</text><text class="t" x="493" y="1299">Майкл</text>
<text class="s" x="70" y="1330">Камилла (2) = Чарльз = (1)Диана</text><text class="t" x="125" y="1336">Спенсер</text>
<text class="s" x="60" y="1335">Паркер-</text><text class="s" x="60" y="1340">Боулс</text>
<text class="t" x="163" y="1330">Анна = Марк</text><text class="t" x="175" y="1336">Филлипс</text>
<text class="t" x="210" y="1330">Эндрю = Сара</text><text class="t" x="205" y="1336">герцог</text><text class="t" x="205" y="1342">Йоркский</text><text class="t" x="238" y="1336">Фергюсон</text>
<text class="t" x="267" y="1330">Эдуард,</text><text class="t" x="267" y="1336">герцог</text><text class="t" x="267" y="1342">Кентский</text>
<text class="t" x="300" y="1327">Дэвид</text><text class="t" x="300" y="1333">Армстронг-</text><text class="t" x="300" y="1339">Джонс,</text><text class="t" x="300" y="1345">виконт</text><text class="t" x="300" y="1351">Линли</text>
<text class="t" x="335" y="1327">Сара</text><text class="t" x="335" y="1333">Армстронг-</text><text class="t" x="335" y="1339">Джонс</text>
<text class="t" x="370" y="1334">Джордж</text><text class="t" x="370" y="1340">граф</text><text class="t" x="370" y="1346">Виндзор</text>
<text class="t" x="402" y="1334">Хелен</text><text class="t" x="402" y="1340">Виндзор</text>
<text class="t" x="437" y="1334">Николас</text><text class="t" x="437" y="1340">Виндзор</text>
<text class="t" x="98" y="1361">Вильям</text><text class="t" x="130" y="1361">Генри</text>
<text class="t" x="152" y="1362">Питер</text><text class="t" x="152" y="1368">Филлипс</text>
<text class="t" x="185" y="1362">Зара</text><text class="t" x="185" y="1368">Филлипс</text>
<text class="t" x="215" y="1361">Беатрис</text><text class="t" x="250" y="1361">Евгения</text>
</svg>
</body></html>
